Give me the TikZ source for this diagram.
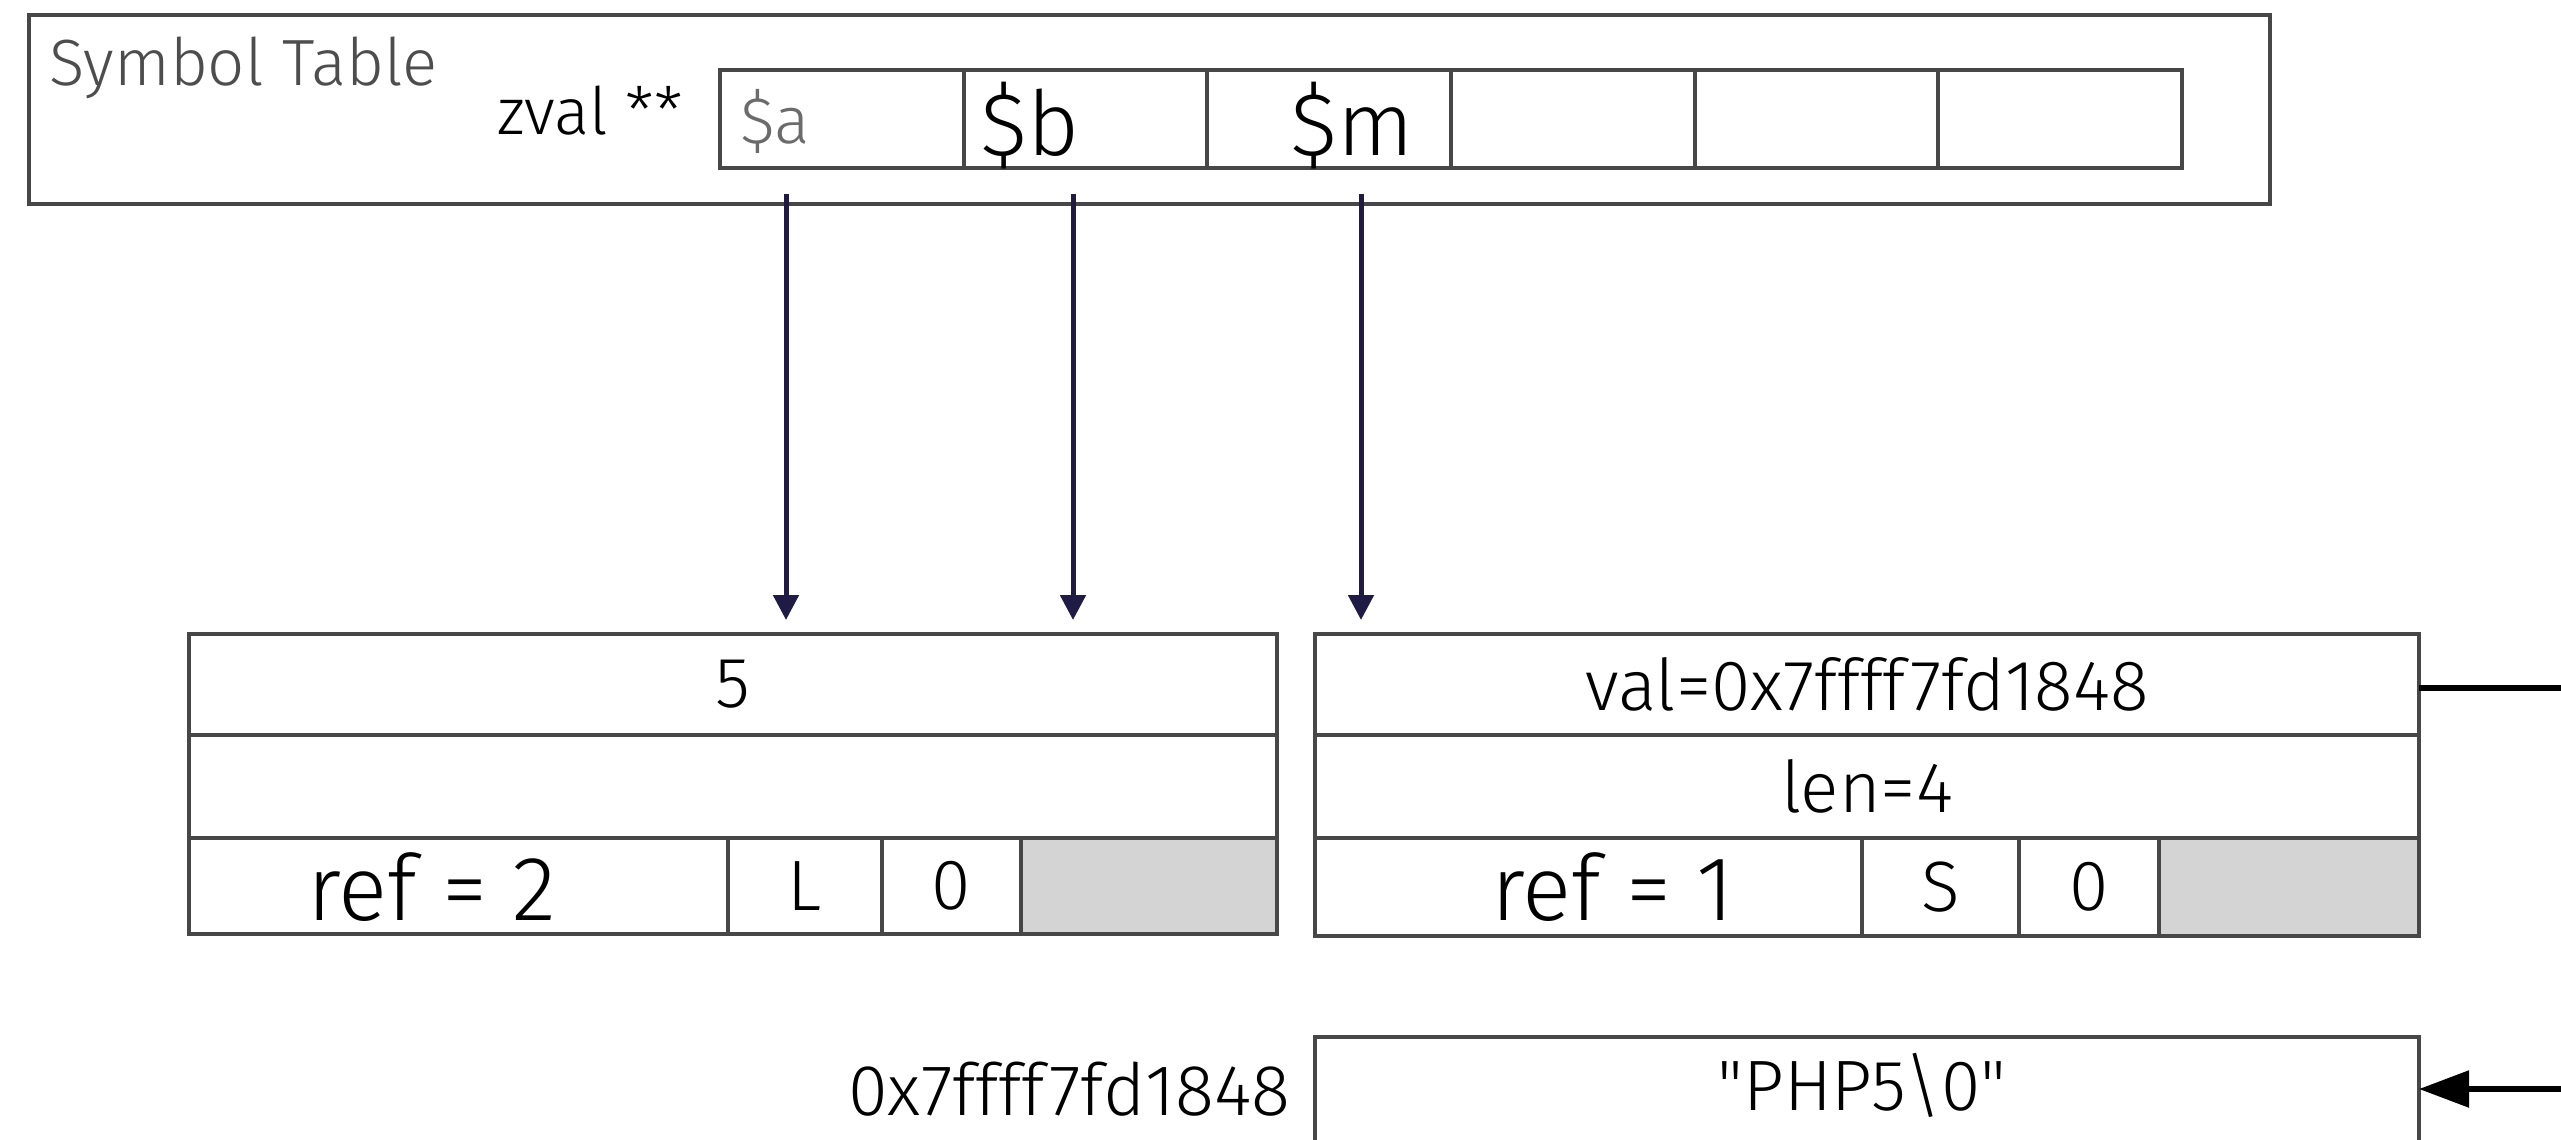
\documentclass[tikz,border=0pt]{standalone}
\usepackage{fontspec}
\setmainfont{Fira Sans Light}
\usetikzlibrary{arrows.meta}
\definecolor{boxline}{HTML}{474747}
\definecolor{navy}{HTML}{1F1B45}
\definecolor{cellgray}{HTML}{D4D4D4}
\definecolor{labelgray}{HTML}{4D4D4D}
\definecolor{agray}{HTML}{6B6B6B}
\begin{document}
\begin{tikzpicture}[x=0.1mm,y=-0.1mm,
  cell/.style={draw=boxline, line width=0.4mm, inner sep=0pt, outer sep=0pt, anchor=north west, font=\fontsize{20.3}{24}\selectfont},
  shaded/.style={cell, fill=cellgray},
  txt/.style={inner sep=0pt, outer sep=0pt, font=\fontsize{20.3}{24}\selectfont},
  bigtxt/.style={inner sep=0pt, outer sep=0pt, font=\fontsize{26}{30}\selectfont},
  ptr/.style={draw=navy, line width=0.5mm, -{Triangle[length=2.5mm, width=2.5mm]}},
  link/.style={draw=black, line width=0.55mm},
  linkarrow/.style={link, -{Triangle[length=5mm, width=3.6mm]}}
]
\fill[white] (0,0) rectangle (2561,1139);
\useasboundingbox (0,0) rectangle (2561,1139);

% Symbol table
\node[cell, minimum width=224.1mm, minimum height=18.9mm] (symtab) at (29,15) {};
\node[txt, anchor=base west, text=labelgray, font=\fontsize{18.6}{22}\selectfont] (symlabel) at (49,85) {Symbol Table};
\node[txt, anchor=base east, font=\fontsize{18.6}{22}\selectfont] (zvallabel) at (683,134) {zval **};
\foreach \i/\nm in {0/ca,1/cb,2/cc,3/cd,4/ce,5/cf}
  \node[cell, minimum width=24.367mm, minimum height=9.8mm] (\nm) at ({720+\i*243.67},70) {};
\node[txt, anchor=base west, text=agray, font=\fontsize{18.8}{22}\selectfont] (va) at (740,143) {\$a};
\node[bigtxt, anchor=base west, font=\fontsize{25.5}{30}\selectfont] (vb) at (980,155) {\$b};
\node[bigtxt, anchor=base west, font=\fontsize{25.5}{30}\selectfont] (vm) at (1290,155) {\$m};

% left zval
\node[cell, minimum width=108.8mm, minimum height=10.1mm] (lval) at (189,634) {5};
\node[cell, minimum width=108.8mm, minimum height=10.3mm] (lmid) at (189,735) {};
\node[cell, minimum width=53.9mm, minimum height=9.6mm] (lref) at (189,838) {};
\node[cell, minimum width=15.4mm, minimum height=9.6mm] (ltype) at (728,838) {L};
\node[cell, minimum width=13.9mm, minimum height=9.6mm] (lflag) at (882,838) {0};
\node[shaded, minimum width=25.6mm, minimum height=9.6mm] (lpad) at (1021,838) {};
\node[bigtxt] (lreftxt) at (432,887) {ref = 2};

% right zval
\node[cell, minimum width=110.4mm, minimum height=10.1mm] (rval) at (1315,634) {val=0x7ffff7fd1848};
\node[cell, minimum width=110.4mm, minimum height=10.3mm] (rlen) at (1315,735) {len=4};
\node[cell, minimum width=54.7mm, minimum height=9.8mm] (rref) at (1315,838) {};
\node[cell, minimum width=15.7mm, minimum height=9.8mm] (rtype) at (1862,838) {S};
\node[cell, minimum width=14.0mm, minimum height=9.8mm] (rflag) at (2019,838) {0};
\node[shaded, minimum width=26.0mm, minimum height=9.8mm] (rpad) at (2159,838) {};
\node[bigtxt] (rreftxt) at (1613,887) {ref = 1};

% string buffer
\node[cell, minimum width=110.4mm, minimum height=13mm] (str) at (1315,1037) {};
\node[txt] (strtxt) at (1862,1085) {\textquotedbl PHP5\textbackslash 0\textquotedbl};
\node[txt, anchor=east, font=\fontsize{20.5}{24}\selectfont] (addr) at (1290,1089) {0x7ffff7fd1848};

% pointers from the symbol table
\coordinate (pa) at (786,194);  \coordinate (pae) at (786,620);
\coordinate (pb) at (1073,194); \coordinate (pbe) at (1073,620);
\coordinate (pm) at (1361,194); \coordinate (pme) at (1361,620);
\draw[ptr] (pa) -- (pae);
\draw[ptr] (pb) -- (pbe);
\draw[ptr] (pm) -- (pme);

% right-side connectors
\coordinate (rout) at (2575,688);
\coordinate (rin) at (2575,1089);
\draw[link] (rval.east |- rout) -- (rout);
\draw[linkarrow] (rin) -- (rin -| str.east);
\end{tikzpicture}
\end{document}
